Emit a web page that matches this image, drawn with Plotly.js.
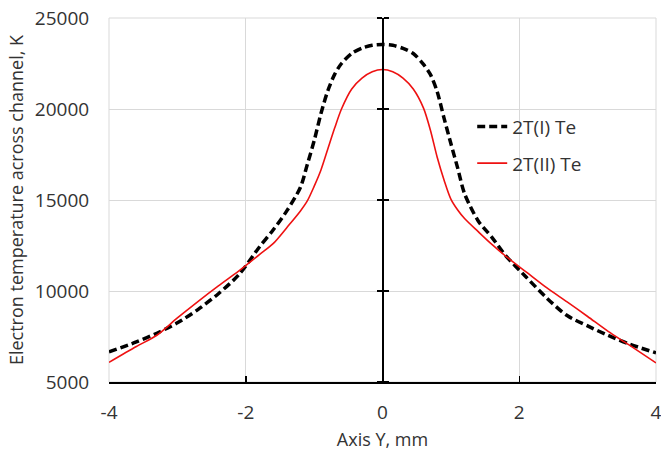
<!DOCTYPE html>
<html>
<head>
<meta charset="utf-8">
<script src="https://cdn.plot.ly/plotly-3.0.1.min.js"></script>
<style>html,body{margin:0;padding:0;background:#fff;}#chart{width:661px;height:454px;}</style>
</head>
<body>
<div id="chart"></div>
<script>
// Axis Y position, mm
const yPos = [-4, -3.6, -3.3, -3.0, -2.7, -2.4, -2.1, -1.8, -1.6, -1.4, -1.2, -1.1, -1.0, -0.9, -0.8, -0.7, -0.6, -0.45, -0.3, -0.15, 0,
              0.15, 0.3, 0.45, 0.6, 0.7, 0.8, 0.9, 1.0, 1.1, 1.2, 1.4, 1.6, 1.8, 2.1, 2.4, 2.7, 3.0, 3.3, 3.6, 4.0];
// 2T(I) Te, K
const te2TI = [6650, 7200, 7680, 8250, 8980, 9850, 10900, 12420, 13350, 14400, 15700, 16950, 18250, 19750, 21000, 21900, 22500, 23050, 23350, 23500, 23540,
               23500, 23330, 23050, 22450, 21900, 20950, 19500, 18100, 16750, 15350, 13850, 12950, 11950, 10770, 9620, 8650, 8080, 7560, 7100, 6600];
// 2T(II) Te, K
const te2TII = [6080, 6950, 7570, 8520, 9420, 10280, 11100, 12000, 12600, 13480, 14400, 14950, 15750, 16650, 17800, 18950, 20000, 21100, 21700, 22050, 22170,
                22050, 21700, 21100, 20050, 18850, 17350, 16100, 15050, 14450, 13980, 13260, 12560, 11920, 11050, 10180, 9400, 8600, 7780, 7050, 6050];
const seriesNames = ['2T(I) Te', '2T(II) Te'];
const xTicks = [-4, -2, 0, 2, 4];
const yTicks = [5000, 10000, 15000, 20000, 25000];

const font = {family: '"Open Sans", "Noto Sans", sans-serif', size: 18, color: '#333'};
const tickFont = {family: '"Open Sans", "Noto Sans", sans-serif', size: 19, color: '#333'};
const traces = [
  {x: yPos, y: te2TI, name: seriesNames[0], type: 'scatter', mode: 'lines',
   line: {color: '#000', width: 3.5, dash: '8px,4px', shape: 'spline', smoothing: 0.8}, legendgroup: 'a'},
  {x: yPos, y: te2TII, name: seriesNames[1], type: 'scatter', mode: 'lines',
   line: {color: '#ee1111', width: 1.6, shape: 'spline', smoothing: 0.8}, legendgroup: 'b'},
  {x: [null], y: [null], yaxis: 'y2', showlegend: false, hoverinfo: 'skip', mode: 'lines'},
  {x: [null], y: [null], yaxis: 'y3', showlegend: false, hoverinfo: 'skip', mode: 'lines'}
];
const yr = [5000, 25000];
const layout = {
  width: 661, height: 454,
  margin: {l: 109, r: 5, t: 18, b: 72},
  paper_bgcolor: '#fff', plot_bgcolor: '#fff',
  font: font,
  showlegend: true,
  legend: {x: 0.664, xanchor: 'left', y: 0.754, yanchor: 'top', bgcolor: 'rgba(0,0,0,0)',
           font: tickFont, tracegroupgap: 9, traceorder: 'grouped'},
  shapes: [{type: 'rect', xref: 'paper', yref: 'paper', x0: 0, x1: 1, y0: 0, y1: 1,
            line: {color: '#d9d9d9', width: 1}, layer: 'below'}],
  xaxis: {range: [-4, 4], tickvals: xTicks, ticktext: xTicks.map(String),
          showgrid: true, gridcolor: '#d9d9d9', gridwidth: 1, zeroline: false,
          showline: true, linecolor: '#000', linewidth: 2,
          ticks: 'inside', ticklen: 6, tickcolor: '#000', tickwidth: 1.5,
          ticklabelstandoff: 12, ticklabeloverflow: 'allow', tickfont: tickFont,
          title: {text: 'Axis Y, mm', font: font, standoff: 10}},
  yaxis: {range: yr, tickvals: yTicks, ticktext: yTicks.map(String),
          showgrid: true, gridcolor: '#d9d9d9', gridwidth: 1, zeroline: false,
          showline: false, ticks: 'outside', ticklen: 15, tickcolor: 'rgba(0,0,0,0)',
          ticklabeloverflow: 'allow', tickfont: tickFont,
          title: {text: 'Electron temperature across channel, K', font: font, standoff: 6}},
  yaxis2: {range: yr, overlaying: 'y', anchor: 'free', position: 0.5, side: 'left',
           tickvals: yTicks, showticklabels: false, showgrid: false, zeroline: false,
           showline: true, linecolor: '#000', linewidth: 2,
           ticks: 'outside', ticklen: 5, tickcolor: '#000', tickwidth: 1.5},
  yaxis3: {range: yr, overlaying: 'y', anchor: 'free', position: 0.5, side: 'right',
           tickvals: yTicks, showticklabels: false, showgrid: false, zeroline: false,
           showline: false,
           ticks: 'outside', ticklen: 5, tickcolor: '#000', tickwidth: 1.5}
};
Plotly.newPlot('chart', traces, layout, {displayModeBar: false, staticPlot: true});
</script>
</body>
</html>
